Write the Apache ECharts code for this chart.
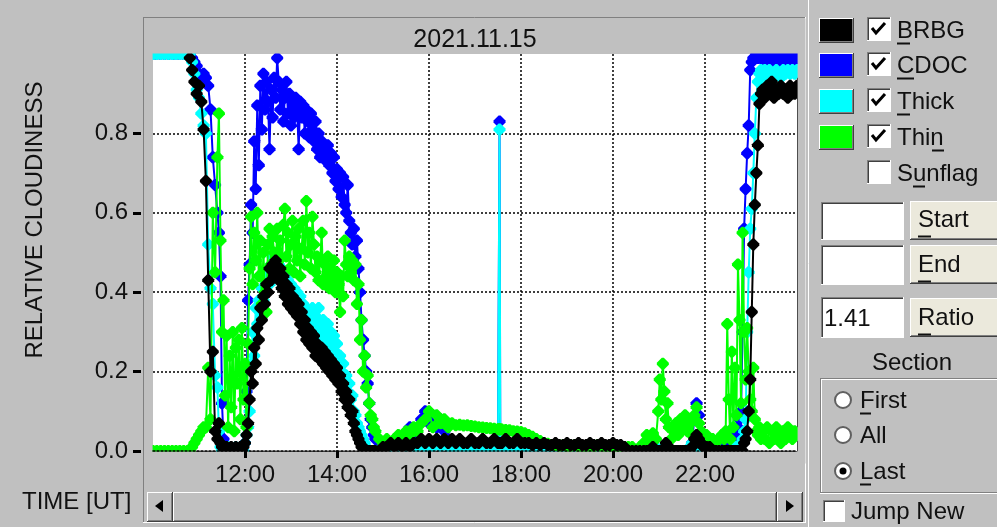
<!DOCTYPE html>
<html><head><meta charset="utf-8">
<script src="https://cdn.jsdelivr.net/npm/echarts@6/dist/echarts.min.js"></script>
<style>html,body{margin:0;padding:0;background:#c0c0c0;overflow:hidden}#c{width:997px;height:527px}</style>
</head><body><div id="c"></div><script>
// ---------------- DATA ----------------
const chartTitle = '2021.11.15';
const seriesNames = ['BRBG', 'CDOC', 'Thick', 'Thin'];
const seriesColors = ['#000000', '#0000ff', '#00ffff', '#00ff00'];
const xTickValues = [720, 840, 960, 1080, 1200, 1320];   // minutes of day (12:00 ... 22:00)
const yTickValues = [0, 0.2, 0.4, 0.6, 0.8];

// time of each sample, minutes since 00:00 UT
const timesMin = [
 600,605,610,615,620,625,630,635,640,645,
 648,651,654,657,660,663,666,669,672,675,678,681,684,686,688,690,
 692,694,696,698,700,702,704,706,708,710,712,714,716,718,720,722,724,
 726,728,730,732,734,736,738,740,742,744,
 746,748,750,752,754,756,758,760,762,764,
 766,768,770,772,774,776,778,780,782,784,
 786,788,790,792,794,796,798,800,802,804,
 806,808,810,812,814,816,818,820,822,824,
 826,828,830,832,834,836,838,840,842,844,
 846,848,850,852,854,856,858,860,862,864,
 866,868,870,872,874,876,878,880,882,884,
 886,888,
 890,895,900,905,910,915,920,925,930,935,940,
 945,950,955,960,965,970,975,980,985,990,995,
 1000,1005,1010,1015,1020,1025,1030,1035,1040,1045,1050,
 1051,1052,1053,
 1055,1060,1065,1070,1075,1080,1085,1090,1095,1100,1105,
 1110,1115,1120,1125,1130,1135,1140,1145,1150,1155,1160,
 1165,1170,1175,1180,1185,1190,1195,1200,1205,1210,
 1215,1220,1225,1230,1235,1240,1244,1248,1252,1256,
 1259,1261,1263,1265,1267,1269,1271,1273,1276,1279,
 1282,1285,1288,1291,1294,1297,1300,1303,1306,1309,
 1312,1315,1318,1322,1326,1330,1334,1338,1342,1345,
 1347,1349,1351,1353,1355,1357,1359,1361,1363,1365,1367,1369,
 1371,1373,1375,1377,1379,1381,1383,1385,1387,1389,1391,1393,
 1395,1398,1401,1404,1407,1410,1413,1416,
 1419,1422,1425,1428,1431,1434,1437,1440
];

const brbg = [
 null,null,null,null,null,null,null,null,null,null,
 0.99,0.96,0.93,0.90,0.92,0.88,0.81,0.68,0.43,0.20,0.25,0.05,0.03,0.07,0.02,0.01,
 0.01,0.0,0.01,0.0,0.0,0.01,0.0,0.0,0.01,0.0,0.0,0.01,0.0,0.01,0.02,0.04,0.07,
 0.13,0.20,0.17,0.26,0.22,0.31,0.28,0.36,0.33,0.39,
 0.37,0.42,0.40,0.46,0.43,0.47,0.44,0.48,0.45,0.43,
 0.46,0.41,0.44,0.39,0.42,0.37,0.41,0.36,0.39,0.35,
 0.38,0.34,0.37,0.32,0.35,0.30,0.33,0.28,0.31,0.27,
 0.30,0.26,0.29,0.24,0.27,0.25,0.23,0.26,0.22,0.25,
 0.21,0.24,0.20,0.23,0.19,0.22,0.18,0.21,0.17,0.19,
 0.15,0.17,0.13,0.15,0.11,0.13,0.09,0.10,0.07,0.05,
 0.04,0.03,0.02,0.01,0.01,0.0,0.0,0.0,0.0,0.0,
 0.0,0.0,
 0.0,0.0,0.01,0.01,0.02,0.01,0.02,0.01,0.02,0.01,0.02,
 0.02,0.03,0.02,0.03,0.02,0.03,0.02,0.03,0.02,0.03,0.02,
 0.03,0.02,0.02,0.03,0.02,0.02,0.03,0.02,0.02,0.03,0.02,
 0.02,0.02,0.02,
 0.02,0.03,0.02,0.02,0.03,0.02,0.02,0.02,0.015,0.02,0.015,
 0.02,0.015,0.015,0.02,0.015,0.015,0.02,0.015,0.015,0.02,0.015,
 0.015,0.02,0.015,0.015,0.02,0.015,0.015,0.02,0.015,0.015,
 0.01,0.0,0.0,0.0,0.0,0.0,0.0,0.0,0.01,0.0,
 0.0,0.0,0.0,0.0,0.0,0.02,0.0,0.01,0.0,0.0,
 0.0,0.0,0.0,0.0,0.0,0.0,0.0,0.01,0.03,0.04,
 0.03,0.02,0.01,0.01,0.01,0.0,0.0,0.0,0.0,0.0,
 0.0,0.0,0.0,0.0,0.0,0.0,0.0,0.0,0.0,0.0,0.0,0.0,
 0.02,0.03,0.05,0.10,0.18,0.35,0.52,0.62,0.70,0.77,0.875,0.90,
 0.91,0.89,0.92,0.90,0.93,0.89,0.91,0.90,
 0.92,0.90,0.91,0.89,0.92,0.91,0.90,0.92
];

const cdoc = [
 1,1,1,1,1,1,1,1,1,1,
 1.0,0.99,0.98,0.97,0.95,0.93,0.95,0.94,0.92,0.86,0.74,0.67,0.60,0.55,0.44,0.12,
 0.03,0.0,0.0,0.0,0.0,0.0,0.0,0.0,0.0,0.0,0.0,0.0,0.0,0.0,0.02,0.15,0.38,
 0.47,0.62,0.55,0.78,0.66,0.87,0.72,0.92,0.81,0.95,
 0.86,0.93,0.88,0.76,0.91,0.84,0.94,0.89,0.99,0.93,
 0.86,0.91,0.83,0.89,0.93,0.85,0.90,0.82,0.88,0.84,
 0.89,0.86,0.76,0.88,0.84,0.87,0.80,0.86,0.83,0.79,
 0.85,0.81,0.78,0.83,0.76,0.80,0.74,0.78,0.75,0.77,
 0.73,0.77,0.72,0.75,0.70,0.74,0.68,0.71,0.66,0.70,
 0.64,0.69,0.62,0.60,0.67,0.58,0.55,0.52,0.56,0.49,
 0.53,0.46,0.40,0.33,0.28,0.24,0.20,0.17,0.12,0.08,
 0.06,0.04,
 0.03,0.0,0.0,0.0,0.0,0.0,0.0,0.0,0.01,0.06,0.05,
 0.03,0.08,0.10,0.07,0.09,0.06,0.08,0.05,0.03,0.02,0.01,
 0.0,0.0,0.0,0.0,0.0,0.0,0.0,0.0,0.0,0.0,0.0,
 0.0,0.83,0.0,
 0.0,0.0,0.0,0.0,0.0,0.0,0.0,0.0,0.0,0.0,0.0,
 0.0,0.0,0.0,0.0,0.0,0.0,0.0,0.0,0.0,0.0,0.0,
 0.0,0.0,0.0,0.0,0.0,0.0,0.0,0.0,0.0,0.0,
 0.0,0.0,0.0,0.0,0.0,0.0,0.0,0.0,0.0,0.0,
 0.0,0.0,0.0,0.0,0.0,0.0,0.0,0.0,0.0,0.0,
 0.0,0.0,0.0,0.0,0.0,0.0,0.0,0.02,0.08,0.12,
 0.09,0.02,0.0,0.0,0.0,0.0,0.0,0.0,0.0,0.01,
 0.01,0.02,0.01,0.02,0.02,0.03,0.04,0.05,0.06,0.08,0.10,0.30,
 0.56,0.66,0.75,0.82,0.96,0.98,0.99,0.99,1.0,0.99,1.0,0.99,
 0.99,0.98,1.0,0.99,0.98,0.99,1.0,0.98,
 0.99,0.99,0.98,1.0,0.99,0.98,0.99,0.99
];

const thick = [
 1,1,1,1,1,1,1,1,1,1,
 1.0,0.98,0.95,0.91,0.89,0.85,0.82,0.80,0.52,0.41,0.37,0.19,0.16,0.05,0.01,0.0,
 0.0,0.0,0.0,0.01,0.0,0.0,0.0,0.0,0.01,0.0,0.0,0.0,0.01,0.0,0.02,0.04,0.06,
 0.10,0.22,0.30,0.24,0.36,0.32,0.38,0.35,0.41,0.38,
 0.43,0.40,0.45,0.42,0.47,0.49,0.46,0.48,0.44,0.47,
 0.43,0.46,0.41,0.44,0.40,0.43,0.39,0.42,0.38,0.41,
 0.37,0.40,0.36,0.39,0.34,0.37,0.33,0.36,0.32,0.35,
 0.33,0.36,0.31,0.34,0.30,0.36,0.32,0.29,0.33,0.30,
 0.28,0.32,0.27,0.30,0.26,0.29,0.25,0.27,0.22,0.24,
 0.20,0.22,0.18,0.19,0.15,0.17,0.13,0.14,0.10,0.09,
 0.07,0.06,0.05,0.04,0.03,0.02,0.01,0.0,0.0,0.0,
 0.0,0.0,
 0.0,0.0,0.0,0.0,0.0,0.0,0.0,0.0,0.0,0.01,0.0,
 0.01,0.02,0.01,0.02,0.01,0.02,0.01,0.02,0.01,0.0,0.0,
 0.0,0.0,0.0,0.0,0.0,0.0,0.0,0.0,0.0,0.0,0.0,
 0.0,0.81,0.0,
 0.0,0.0,0.0,0.0,0.0,0.0,0.0,0.0,0.0,0.0,0.0,
 0.0,0.0,0.0,0.0,0.0,0.0,0.0,0.0,0.0,0.0,0.0,
 0.0,0.0,0.0,0.0,0.0,0.0,0.0,0.0,0.0,0.0,
 0.0,0.0,0.0,0.0,0.0,0.0,0.0,0.0,0.0,0.01,
 0.0,0.0,0.0,0.0,0.01,0.0,0.0,0.0,0.0,0.0,
 0.0,0.0,0.0,0.0,0.0,0.0,0.01,0.02,0.01,0.02,
 0.01,0.02,0.01,0.0,0.0,0.0,0.0,0.0,0.0,0.0,
 0.0,0.0,0.0,0.0,0.0,0.0,0.01,0.0,0.01,0.01,0.02,0.03,
 0.05,0.08,0.30,0.45,0.56,0.61,0.70,0.80,0.89,0.93,0.95,0.96,
 0.95,0.96,0.94,0.96,0.95,0.94,0.96,0.95,
 0.94,0.96,0.95,0.96,0.95,0.96,0.95,0.96
];

const thin = [
 0,0,0,0,0,0,0,0,0,0,
 0.0,0.01,0.02,0.03,0.04,0.05,0.06,0.06,0.21,0.08,0.60,0.45,0.74,0.85,0.53,0.30,
 0.38,0.14,0.29,0.06,0.24,0.11,0.30,0.05,0.26,0.17,0.28,0.08,0.31,0.13,0.22,0.06,0.27,
 0.46,0.59,0.42,0.55,0.48,0.60,0.44,0.53,0.37,0.50,
 0.40,0.35,0.52,0.56,0.47,0.54,0.50,0.45,0.56,0.48,
 0.53,0.44,0.57,0.61,0.49,0.55,0.46,0.52,0.58,0.45,
 0.54,0.48,0.56,0.44,0.51,0.58,0.47,0.63,0.50,0.55,
 0.46,0.59,0.52,0.45,0.49,0.43,0.48,0.55,0.42,0.47,
 0.44,0.49,0.41,0.46,0.43,0.48,0.40,0.45,0.42,0.35,
 0.44,0.39,0.53,0.47,0.44,0.49,0.45,0.48,0.43,0.47,
 0.37,0.42,0.28,0.33,0.20,0.24,0.16,0.19,0.12,0.09,
 0.08,0.06,
 0.05,0.03,0.02,0.03,0.02,0.03,0.04,0.03,0.05,0.04,0.06,
 0.05,0.07,0.08,0.10,0.06,0.09,0.07,0.08,0.06,0.07,0.065,
 0.066,0.064,0.065,0.063,0.062,0.06,0.059,0.058,0.057,0.056,0.055,
 0.055,0.055,0.055,
 0.054,0.053,0.052,0.05,0.049,0.048,0.045,0.04,0.036,0.03,0.025,
 0.02,0.018,0.015,0.015,0.012,0.015,0.01,0.012,0.015,0.01,0.012,
 0.01,0.012,0.01,0.015,0.01,0.012,0.01,0.01,0.012,0.01,
 0.01,0.01,0.01,0.0,0.01,0.02,0.04,0.03,0.045,0.03,
 0.10,0.18,0.13,0.22,0.15,0.08,0.12,0.06,0.03,0.05,
 0.07,0.04,0.08,0.06,0.09,0.05,0.07,0.04,0.09,0.11,
 0.07,0.05,0.03,0.04,0.02,0.03,0.02,0.03,0.04,0.03,
 0.05,0.32,0.13,0.03,0.25,0.06,0.21,0.09,0.47,0.33,0.12,0.55,
 0.30,0.18,0.31,0.20,0.13,0.10,0.21,0.08,0.05,0.04,0.06,0.03,
 0.05,0.03,0.06,0.02,0.05,0.03,0.06,0.04,
 0.02,0.05,0.03,0.06,0.04,0.03,0.05,0.04
];

const seriesValues = [brbg, cdoc, thick, thin];
const seriesZ = [5, 2, 3, 4];   // drawing order: CDOC, Thick, Thin, BRBG on top

// ---------------- CHART ----------------
const FONT = '24px "Liberation Sans", Arial, Helvetica, sans-serif';
const TXT = '#111';
const MARKER = 'path://M5,0 L7,0 L12,5 L12,7 L7,12 L5,12 L0,7 L0,5 Z';
const chart = echarts.init(document.getElementById('c'), null, {renderer: 'canvas', width: 997, height: 527});

const G = [];
function rect(x, y, w, h, fill, z) { G.push({type: 'rect', silent: true, z: z || 1, shape: {x, y, width: w, height: h}, style: {fill}}); }
function line(x1, y1, x2, y2, stroke, w, z) { G.push({type: 'line', silent: true, z: z || 1, shape: {x1, y1, x2, y2}, style: {stroke, lineWidth: w || 1}}); }
function text(x, y, str, o) {
  o = o || {};
  G.push({type: 'text', silent: true, z: o.z || 1, x, y, rotation: o.rot || 0,
    style: {text: str, font: o.font || FONT, fill: o.fill || TXT, textAlign: o.align || 'left', align: o.align || 'left',
      textVerticalAlign: 'middle', verticalAlign: 'middle'}});
}
function raised(x, y, w, h, fill) {
  rect(x, y, w, h, fill);
  line(x, y + 0.5, x + w, y + 0.5, '#ffffff');
  line(x + 0.5, y, x + 0.5, y + h, '#ffffff');
  line(x, y + h - 0.5, x + w, y + h - 0.5, '#404040');
  line(x + w - 0.5, y, x + w - 0.5, y + h, '#404040');
  line(x + 1, y + h - 1.5, x + w - 1, y + h - 1.5, '#808080');
  line(x + w - 1.5, y + 1, x + w - 1.5, y + h - 1, '#808080');
}
function sunken(x, y, w, h, fill) {
  rect(x, y, w, h, fill);
  line(x, y + 0.5, x + w, y + 0.5, '#808080');
  line(x + 0.5, y, x + 0.5, y + h, '#808080');
  line(x + 1, y + 1.5, x + w - 1, y + 1.5, '#404040');
  line(x + 1.5, y + 1, x + 1.5, y + h - 1, '#404040');
  line(x, y + h - 0.5, x + w, y + h - 0.5, '#ffffff');
  line(x + w - 0.5, y, x + w - 0.5, y + h, '#ffffff');
}
function check(x, y) {
  G.push({type: 'polyline', silent: true, z: 2, shape: {points: [[x + 5, y + 11], [x + 9, y + 16], [x + 18, y + 6]]},
    style: {stroke: '#000', lineWidth: 3, fill: null}});
}

// plot panel frame
line(143, 17.5, 806, 17.5, '#808080');
line(143.5, 17, 143.5, 523, '#808080');
line(143, 522.5, 806, 522.5, '#ffffff');
line(805.5, 17, 805.5, 523, '#ffffff');
line(808.5, 0, 808.5, 527, '#ffffff');
// covers that clip markers at the plot edges
rect(144, 18.5, 661, 35, '#c0c0c0', 50);
rect(144, 451.6, 661, 12, '#c0c0c0', 50);
rect(144, 18.5, 8.6, 445, '#c0c0c0', 50);
rect(797.6, 18.5, 7.9, 445, '#c0c0c0', 50);
// title
text(475, 40, chartTitle, {align: 'center', font: '25px "Liberation Sans", Arial, sans-serif', z: 55});
// axis names
text(35, 220, 'RELATIVE CLOUDINESS', {align: 'center', rot: Math.PI / 2});
text(22, 502, 'TIME [UT]');
// scrollbar
raised(147, 492, 26, 30, '#c0c0c0');
raised(173, 492, 604, 30, '#c0c0c0');
raised(777, 492, 26, 30, '#c0c0c0');
G.push({type: 'polygon', silent: true, z: 2, shape: {points: [[155, 506], [163, 500], [163, 512]]}, style: {fill: '#000'}});
G.push({type: 'polygon', silent: true, z: 2, shape: {points: [[794, 506], [786, 500], [786, 512]]}, style: {fill: '#000'}});

// legend swatches + checkboxes
const rowY = [30, 65, 101, 137, 173];
seriesNames.forEach((n, i) => {
  raised(819, rowY[i] - 12, 35, 25, seriesColors[i]);
});
const legendLabels = ['BRBG', 'CDOC', 'Thick', 'Thin', 'Sunflag'];
const underl = [[897, 910], [897, 914], [897, 910], [932, 944], [913, 925]];
legendLabels.forEach((n, i) => {
  sunken(867, rowY[i] - 13, 24, 24, '#ffffff');
  if (i < 4) check(867, rowY[i] - 13);
  text(897, rowY[i] + 1, n);
  line(underl[i][0], rowY[i] + 13.5, underl[i][1], rowY[i] + 13.5, '#111', 2);
});
// Start / End / Ratio
sunken(821, 202, 83, 38, '#ffffff');
sunken(821, 245, 83, 40, '#ffffff');
sunken(821, 297, 83, 41, '#ffffff');
text(824, 319, '1.41');
[['Start', 201, 220], ['End', 245, 265], ['Ratio', 298, 318]].forEach(b => {
  raised(910, b[1], 92, 39, '#ebe9dc');
  text(918, b[2], b[0]);
  line(918, b[2] + 16.5, 931, b[2] + 16.5, '#111', 2);
});
// Section group
text(912, 363, 'Section', {align: 'center'});
line(820, 378.5, 997, 378.5, '#808080');
line(820.5, 378, 820.5, 493, '#808080');
line(820, 492.5, 997, 492.5, '#808080');
line(821, 379.5, 997, 379.5, '#ffffff');
line(821.5, 379, 821.5, 492, '#ffffff');
line(820, 493.5, 997, 493.5, '#ffffff');
[['First', 400, true], ['All', 435, false], ['Last', 471, true]].forEach((r, i) => {
  G.push({type: 'circle', silent: true, z: 2, shape: {cx: 843, cy: r[1], r: 8}, style: {fill: '#fff', stroke: '#606060', lineWidth: 2}});
  text(860, r[1] + 1, r[0]);
  if (r[2]) line(860, r[1] + 13.5, 871, r[1] + 13.5, '#111', 2);
});
G.push({type: 'circle', silent: true, z: 3, shape: {cx: 843, cy: 471, r: 3.5}, style: {fill: '#000'}});
sunken(823, 500, 22, 22, '#ffffff');
text(851, 512, 'Jump New');

const dotted = {color: '#000', width: 1.5, type: [2, 2]};
const hhmm = v => String(Math.floor(v / 60)).padStart(2, '0') + ':' + String(v % 60).padStart(2, '0');

const option = {
  animation: false,
  backgroundColor: '#c0c0c0',
  textStyle: {fontFamily: '"Liberation Sans", Arial, sans-serif'},
  grid: {left: 153, top: 54, width: 644, height: 397, show: true, backgroundColor: '#ffffff', borderWidth: 0},
  xAxis: [
    {type: 'value', min: 600, max: 1440, interval: 120, position: 'top', z: 0,
      axisLine: {show: true, lineStyle: {color: '#000', width: 1}}, axisTick: {show: false}, axisLabel: {show: false},
      splitLine: {show: true, showMinLine: false, showMaxLine: false, lineStyle: dotted}},
    {type: 'value', min: 600, max: 1440, interval: 120, position: 'bottom', z: 60,
      axisLine: {show: true, onZero: false, lineStyle: dotted},
      axisTick: {show: true, length: 7, customValues: xTickValues, lineStyle: {color: '#000', width: 3}},
      axisLabel: {customValues: xTickValues, formatter: hhmm, fontSize: 24, color: TXT, margin: 12,
        fontFamily: '"Liberation Sans", Arial, sans-serif'},
      splitLine: {show: false}}
  ],
  yAxis: [
    {type: 'value', min: 0, max: 1, interval: 0.2, position: 'right', z: 0,
      axisLine: {show: true, lineStyle: {color: '#000', width: 1}}, axisTick: {show: false}, axisLabel: {show: false},
      splitLine: {show: true, showMinLine: false, showMaxLine: false, lineStyle: dotted}},
    {type: 'value', min: 0, max: 1, interval: 0.2, position: 'left', offset: 12, z: 60,
      axisLine: {show: false},
      axisTick: {show: true, length: 8, customValues: yTickValues, lineStyle: {color: '#000', width: 3}},
      axisLabel: {customValues: yTickValues, formatter: v => v.toFixed(1), fontSize: 24, color: TXT, margin: 13,
        fontFamily: '"Liberation Sans", Arial, sans-serif'},
      splitLine: {show: false}}
  ],
  series: seriesNames.map((name, i) => ({
    name, type: 'line', xAxisIndex: 0, yAxisIndex: 0, z: seriesZ[i],
    data: timesMin.map((t, k) => [t, seriesValues[i][k] === null ? '-' : seriesValues[i][k]]),
    symbol: MARKER, symbolSize: 12, showSymbol: true,
    lineStyle: {color: seriesColors[i], width: 2}, itemStyle: {color: seriesColors[i]},
    emphasis: {disabled: true}, connectNulls: false
  })),
  graphic: {elements: G}
};
chart.setOption(option);
seriesValues.forEach((a, i) => { if (a.length !== timesMin.length) console.error('length mismatch', seriesNames[i], a.length, timesMin.length); });
</script></body></html>
